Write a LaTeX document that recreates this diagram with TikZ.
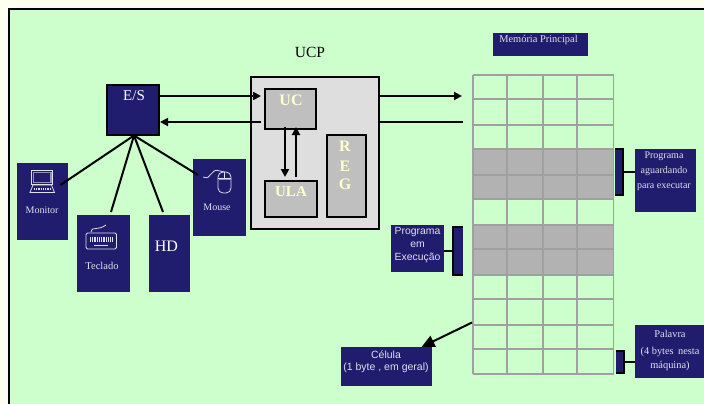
\documentclass[tikz,border=0pt]{standalone}
\usepackage{fontspec}
\setmainfont{Liberation Serif}
\setsansfont{Liberation Sans}
\usetikzlibrary{arrows.meta}
\definecolor{marinho}{HTML}{201C6E}
\definecolor{fundo}{HTML}{CCFFCC}
\definecolor{creme}{HTML}{FFFFF0}
\definecolor{claro}{HTML}{E0E0EC}
\definecolor{amarelo}{HTML}{FFFFCC}
\definecolor{grade}{HTML}{A0A0A0}
\definecolor{ocupado}{HTML}{B2B2B2}
\tikzset{
  caixa/.style={fill=marinho, text=claro, inner sep=0pt, outer sep=0pt, align=center, font=\fontsize{10}{15}\selectfont},
  bloco/.style={draw=black, line width=1.6pt, fill=black!25, inner sep=0pt, outer sep=0pt},
  rotulo/.style={text=amarelo, inner sep=0pt, font=\bfseries\fontsize{16}{19}\selectfont},
  legenda/.style={text=claro, inner sep=0pt, font=\fontsize{10}{12}\selectfont},
  ligacao/.style={line width=2pt},
  linhagrade/.style={draw=grade, line width=1.9pt},
  colchete/.style={fill=marinho, inner sep=0pt, outer sep=0pt},
  icone/.style={draw=claro, line width=0.8pt}
}
\begin{document}
\begin{tikzpicture}[x=1pt, y=-1pt, >={Stealth[length=8pt,width=8pt,inset=0pt]}]
  \useasboundingbox (0,0) rectangle (704,404);
  % Fundo
  \fill[creme] (0,0) rectangle (704,404);
  \fill[fundo] (9,9) rectangle (704,404);
  \draw[line width=2.2pt] (9,404) -- (9,9) -- (704,9);

  % Entrada e saida
  \node[caixa, draw=black, line width=1.6pt, minimum width=52pt, minimum height=50pt] (es) at (133,110) {};
  \node[text=white, inner sep=0pt, font=\fontsize{15}{18}\selectfont] (es-txt) at (134,96) {E/S};
  \node[caixa, minimum width=51pt, minimum height=77pt] (monitor) at (42.5,201.5) {};
  \node[caixa, minimum width=53pt, minimum height=77pt] (teclado) at (103.5,253.5) {};
  \node[caixa, minimum width=41pt, minimum height=77pt] (hd) at (169.5,253.5) {};
  \node[caixa, minimum width=53pt, minimum height=77pt] (mouse) at (219.5,197.5) {};
  \node[legenda] (monitor-txt) at (42,210) {Monitor};
  \node[legenda, font=\fontsize{10.5}{12}\selectfont] (teclado-txt) at (102,265.5) {Teclado};
  \node[text=white, inner sep=0pt, font=\fontsize{16}{19}\selectfont] (hd-txt) at (166.5,246) {HD};
  \node[legenda] (mouse-txt) at (217,207.5) {Mouse};

  % Icones
  \draw[icone] (31.5,170.5) rectangle (52.5,184);
  \fill[claro!60!marinho] (32.5,171.5) rectangle (51.5,183);
  \fill[marinho] (34,173) rectangle (50,181.5);
  \draw[icone] (33,185) -- (30,192.5) -- (54.5,192.5) -- (51.5,185) -- cycle;
  \draw[claro, line width=2.5pt, dash pattern=on 1pt off 0.8pt] (34,189) -- (51,189);
  \draw[icone, rounded corners=1.5pt] (86,233) rectangle (116.5,249);
  \draw[claro, line width=5.5pt, dash pattern=on 1pt off 0.8pt] (90,239.5) -- (113,239.5);
  \draw[claro, line width=1.2pt] (94,245.5) -- (108,245.5);
  \draw[icone] (91,232) .. controls (91,226) and (98,231) .. (106,225);
  \draw[icone, rounded corners=5pt] (218,172) rectangle (231,193);
  \draw[icone] (218,178) -- (231,178) (224.5,172) -- (224.5,178);
  \fill[claro!60!marinho] (218.5,178.5) rectangle (230.5,180);
  \draw[icone] (203,177) .. controls (212,181) and (210,167) .. (220,171) .. controls (223,172) .. (224.5,172);

  % UCP
  \node[inner sep=0pt, font=\fontsize{15.5}{18}\selectfont] (ucp-txt) at (310,52) {UCP};
  \node[draw=black, line width=1.6pt, fill=black!13, inner sep=0pt, outer sep=0pt, minimum width=128pt, minimum height=152pt] (ucp) at (315,153) {};
  \node[bloco, minimum width=51pt, minimum height=40pt] (uc) at (290.5,109) {};
  \node[bloco, minimum width=52pt, minimum height=36pt] (ula) at (291,199) {};
  \node[bloco, minimum width=39pt, minimum height=82pt] (reg) at (346.5,176) {};
  \node[rotulo] (uc-txt) at (291,100) {UC};
  \node[rotulo, font=\bfseries\fontsize{15}{18}\selectfont] (ula-txt) at (291,192) {ULA};
  \node[rotulo] (reg-r) at (345,146) {R};
  \node[rotulo] (reg-e) at (345,166) {E};
  \node[rotulo] (reg-g) at (345,184) {G};

  % Barramento
  \coordinate (es-sai) at (159,96);
  \coordinate (uc-ent) at (261,96);
  \coordinate (uc-sai) at (261,122);
  \coordinate (es-ent) at (160,122);
  \coordinate (ucp-sai) at (379,96);
  \coordinate (mem-ent) at (462,96);
  \coordinate (mem-sai) at (463,122);
  \coordinate (ucp-ent) at (379,122);
  \draw[->, ligacao] (es-sai) -- (uc-ent);
  \draw[->, ligacao] (uc-sai) -- (es-ent);
  \draw[->, ligacao] (ucp-sai) -- (mem-ent);
  \draw[ligacao] (mem-sai) -- (ucp-ent);

  % UC e ULA
  \coordinate (uc-a) at (285,127);
  \coordinate (ula-a) at (285,177);
  \coordinate (uc-b) at (296,127);
  \coordinate (ula-b) at (296,177);
  \draw[->, ligacao] (uc-a) -- (ula-a);
  \draw[->, ligacao] (ula-b) -- (uc-b);

  % Perifericos
  \coordinate (es-base) at (134,135.5);
  \coordinate (monitor-fim) at (60.5,185);
  \coordinate (teclado-fim) at (111,212);
  \coordinate (hd-fim) at (163,212);
  \coordinate (mouse-fim) at (198,175);
  \foreach \fim in {monitor-fim, teclado-fim, hd-fim, mouse-fim}
    \draw[ligacao] (es-base) -- (\fim);

  % Memoria
  \node[caixa, minimum width=95pt, minimum height=23pt] (mem) at (540.5,44.5) {};
  \node[legenda, font=\fontsize{10.4}{12}\selectfont] (mem-txt) at (538.5,40) {Memória Principal};
  \fill[ocupado] (473,149) rectangle (613.5,199);
  \fill[ocupado] (473,225) rectangle (613.5,275);
  \foreach \y in {75,99,125,149,175,199,225,249,275,299,325,349,374}
    \draw[linhagrade] (473,\y) -- (613.5,\y);
  \foreach \x in {473,507,543,577,613.5}
    \draw[linhagrade] (\x,75) -- (\x,374);

  % Legendas da memoria
  \node[caixa, minimum width=61pt, minimum height=63pt] (aguardando) at (665.5,180.5) {};
  \node[legenda, align=center, font=\fontsize{10}{15}\selectfont] (aguardando-txt) at (664,171) {Programa\\aguardando\\para executar};
  \node[caixa, minimum width=53pt, minimum height=47pt] (execucao) at (417.5,248.5) {};
  \node[legenda, align=center, font=\sffamily\fontsize{10.4}{12.8}\selectfont] (execucao-txt) at (417.5,245) {Programa\\em\\Execução};
  \node[caixa, minimum width=91pt, minimum height=39pt] (celula) at (386.5,366.5) {};
  \node[legenda, align=center, font=\sffamily\fontsize{10.5}{12}\selectfont] (celula-txt) at (386,361.5) {Célula\\(1 byte , em geral)};
  \node[caixa, minimum width=69pt, minimum height=53pt] (palavra) at (669.5,351.5) {};
  \node[legenda, align=center, font=\fontsize{10.4}{14}\selectfont] (palavra-txt) at (670,359) {(4 bytes\, nesta\\máquina)};
  \node[legenda, font=\fontsize{10.4}{12}\selectfont] (palavra-tit) at (670,334) {Palavra};

  % Colchetes
  \node[colchete, minimum width=8pt, minimum height=46pt] (c-aguardando) at (619,172) {};
  \node[colchete, minimum width=10pt, minimum height=48pt] (c-execucao) at (458,251) {};
  \node[colchete, minimum width=8pt, minimum height=22pt] (c-palavra) at (619.5,362) {};
  \foreach \c in {c-aguardando, c-palavra}
    \draw[ligacao] (\c.north west) -- (\c.north east) -- (\c.south east) -- (\c.south west);
  \draw[ligacao] (c-execucao.north east) -- (c-execucao.north west) -- (c-execucao.south west) -- (c-execucao.south east);
  \draw[ligacao] (c-aguardando.east) -- (aguardando.west |- c-aguardando.east);
  \draw[ligacao] (c-palavra.east) -- (palavra.west |- c-palavra.east);
  \draw[ligacao] (execucao.east |- c-execucao.west) -- (c-execucao.west);

  % Celula
  \coordinate (cel-ini) at (472,322.5);
  \coordinate (cel-fim) at (421.5,347);
  \draw[-{Stealth[length=13pt,width=12pt,inset=0pt]}, ligacao] (cel-ini) -- (cel-fim);
\end{tikzpicture}
\end{document}
